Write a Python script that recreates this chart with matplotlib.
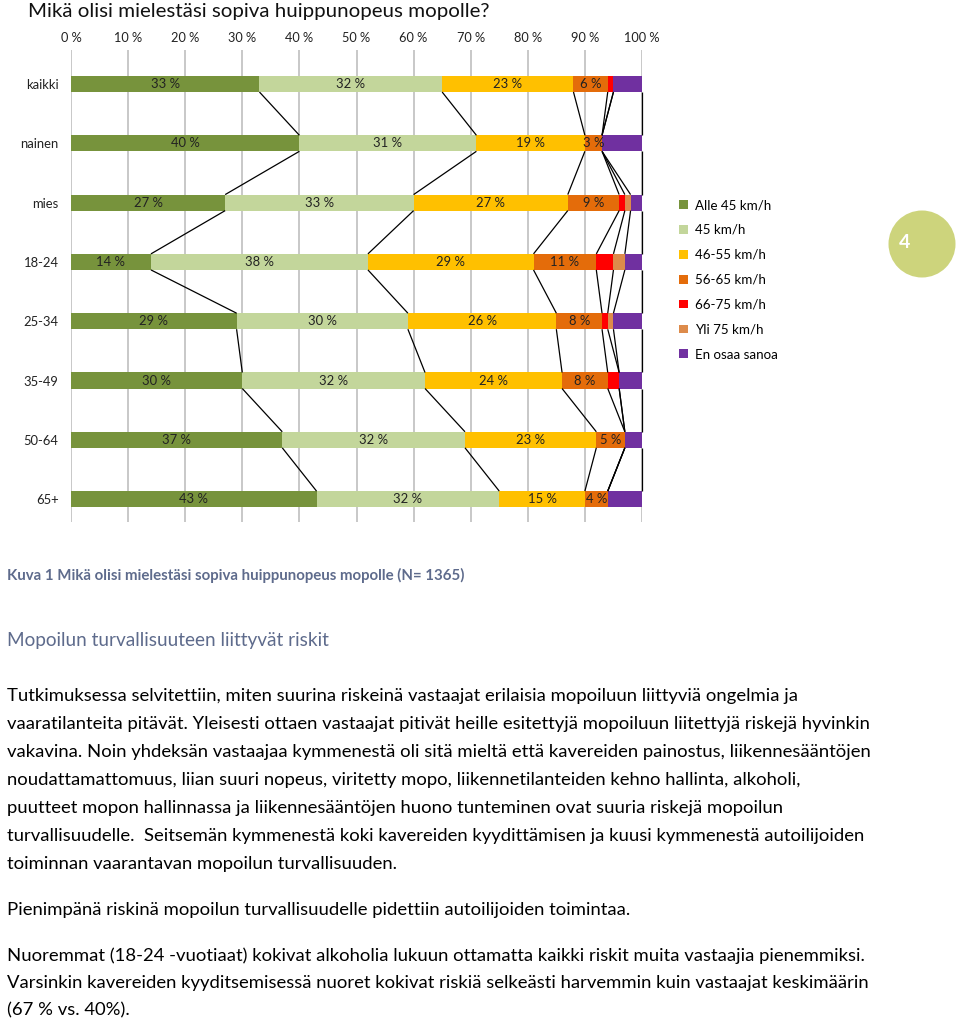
import matplotlib
matplotlib.use('Agg')
import matplotlib.pyplot as plt
from matplotlib.patches import Circle

# ---------------- data ----------------
categories = ['kaikki', 'nainen', 'mies', '18-24', '25-34', '35-49', '50-64', '65+']
series_names = ['Alle 45 km/h', '45 km/h', '46-55 km/h', '56-65 km/h',
                '66-75 km/h', 'Yli 75 km/h', 'En osaa sanoa']
alle45 = [33, 40, 27, 14, 29, 30, 37, 43]
kmh45 = [32, 31, 33, 38, 30, 32, 32, 32]
kmh46_55 = [23, 19, 27, 29, 26, 24, 23, 15]
kmh56_65 = [6, 3, 9, 11, 8, 8, 5, 4]
kmh66_75 = [1, 0, 1, 3, 1, 2, 0, 0]
yli75 = [0, 0, 1, 2, 1, 0, 0, 0]
en_osaa = [5, 7, 2, 3, 5, 4, 3, 6]
tick_values = [0, 10, 20, 30, 40, 50, 60, 70, 80, 90, 100]
tick_labels = ['0 %', '10 %', '20 %', '30 %', '40 %', '50 %', '60 %',
               '70 %', '80 %', '90 %', '100 %']
labelled_series = 4  # only first four series carry value labels

title = 'Mikä olisi mielestäsi sopiva huippunopeus mopolle?'
caption = 'Kuva 1 Mikä olisi mielestäsi sopiva huippunopeus mopolle (N= 1365)'
heading = 'Mopoilun turvallisuuteen liittyvät riskit'
body_lines = [
    'Tutkimuksessa selvitettiin, miten suurina riskeinä vastaajat erilaisia mopoiluun liittyviä ongelmia ja',
    'vaaratilanteita pitävät. Yleisesti ottaen vastaajat pitivät heille esitettyjä mopoiluun liitettyjä riskejä hyvinkin',
    'vakavina. Noin yhdeksän vastaajaa kymmenestä oli sitä mieltä että kavereiden painostus, liikennesääntöjen',
    'noudattamattomuus, liian suuri nopeus, viritetty mopo, liikennetilanteiden kehno hallinta, alkoholi,',
    'puutteet mopon hallinnassa ja liikennesääntöjen huono tunteminen ovat suuria riskejä mopoilun',
    'turvallisuudelle.  Seitsemän kymmenestä koki kavereiden kyydittämisen ja kuusi kymmenestä autoilijoiden',
    'toiminnan vaarantavan mopoilun turvallisuuden.',
    'Pienimpänä riskinä mopoilun turvallisuudelle pidettiin autoilijoiden toimintaa.',
    'Nuoremmat (18-24 -vuotiaat) kokivat alkoholia lukuun ottamatta kaikki riskit muita vastaajia pienemmiksi.',
    'Varsinkin kavereiden kyyditsemisessä nuoret kokivat riskiä selkeästi harvemmin kuin vastaajat keskimäärin',
    '(67 % vs. 40%).',
]

# ---------------- style ----------------
colors = ['#77933c', '#c3d69b', '#ffc000', '#e46c0a', '#ff0000', '#dd8b4b', '#7030a0']
plt.rcParams['font.family'] = ['Lato', 'DejaVu Sans']

W, H = 960, 1021
fig = plt.figure(figsize=(W / 100, H / 100), dpi=100)
fig.patch.set_facecolor('white')


def fx(px):
    return px / W


def fy(py):
    return 1 - py / H


ax_l, ax_r, ax_t, ax_b = 71, 642, 50, 522
ax = fig.add_axes([fx(ax_l), fy(ax_b), fx(ax_r - ax_l), (ax_b - ax_t) / H])

data = [alle45, kmh45, kmh46_55, kmh56_65, kmh66_75, yli75, en_osaa]
n = len(categories)
ypos = list(range(n))
bar_h = 0.27
left = [0.0] * n
cum = []
for k, vals in enumerate(data):
    cont = ax.barh(ypos, vals, left=left, height=bar_h, color=colors[k],
                   label=series_names[k], zorder=3)
    if k < labelled_series:
        ax.bar_label(cont, labels=[f'{v} %' for v in vals], label_type='center',
                     fontsize=9.4, color='#222222', zorder=5)
    left = [l + v for l, v in zip(left, vals)]
    cum.append(list(left))

# series lines
for k in range(len(data)):
    for i in range(n - 1):
        ax.plot([cum[k][i], cum[k][i + 1]], [i + bar_h / 2, i + 1 - bar_h / 2],
                color='black', lw=0.9, zorder=4, solid_capstyle='butt', clip_on=False)

# pixel-derived y limits (kaikki centred at 84 px, pitch ~59.3 px)
pitch = 59.3
ax.set_ylim((ax_b - 84) / pitch, (ax_t - 84) / pitch)
ax.set_xlim(0, 100)
ax.set_yticks(ypos)
ax.set_yticklabels(categories, fontsize=9.4, color='#222222')
ax.xaxis.tick_top()
ax.set_xticks(tick_values)
ax.set_xticklabels(tick_labels, fontsize=9.2, color='#222222')
ax.tick_params(axis='both', length=0)
ax.tick_params(axis='x', pad=4)
ax.tick_params(axis='y', pad=9)
for s in ax.spines.values():
    s.set_visible(False)
ax.grid(axis='x', color='#bfbfbf', lw=1.2, zorder=0)
ax.set_axisbelow(True)

# legend
handles, labels = ax.get_legend_handles_labels()
fig.legend(handles, labels, loc='upper left', bbox_to_anchor=(fx(679), fy(199)),
           frameon=False, fontsize=9.6, handlelength=0.65, handleheight=0.65,
           handletextpad=0.55, labelspacing=0.97, borderaxespad=0, borderpad=0)

# page number circle
circ = Circle((922 / 100, (H - 244) / 100), 0.335, transform=fig.dpi_scale_trans,
              facecolor='#cdd47c', edgecolor='none')
fig.patches.append(circ)
fig.text(fx(905), fy(242), '4', color='white', fontsize=14, fontweight='bold',
         ha='center', va='center')

renderer = fig.canvas.get_renderer()


def fitted(x, y, s, target_w, base=12, **kw):
    t = fig.text(fx(x), fy(y), s, fontsize=base, ha='left', va='center', **kw)
    w = t.get_window_extent(renderer).width
    size = base * target_w / w
    t.set_fontsize(size)
    return t, size


fitted(28, 12, title, 460, color='#111111')
fitted(7, 575, caption, 456, color='#5e6b8c', fontweight='bold')
fitted(7, 640, heading, 321, color='#5e6b8c')

_, body_size = fitted(7, 724, body_lines[1], 858, color='black')
body_y = [696, None, 752, 780, 808, 836, 864, 910, 956, 983, 1010]
for i, line in enumerate(body_lines):
    if i == 1:
        continue
    fig.text(fx(7), fy(body_y[i]), line, fontsize=body_size, ha='left', va='center',
             color='black')

fig.savefig('out.png', dpi=100, facecolor='white')
